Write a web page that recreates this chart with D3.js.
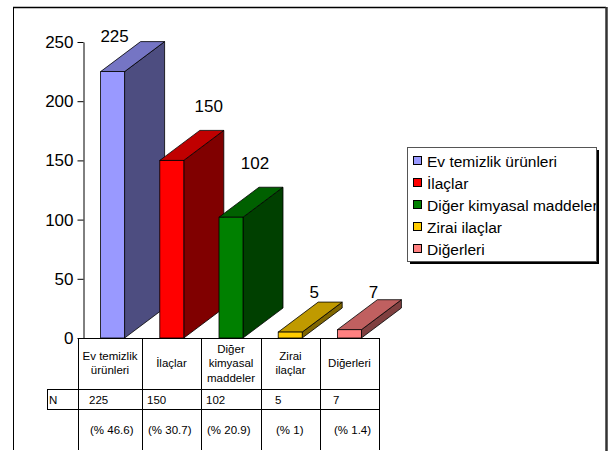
<!DOCTYPE html>
<html>
<head>
<meta charset="utf-8">
<script src="https://cdn.jsdelivr.net/npm/d3@7"></script>
<style>
  body { margin: 0; background: #fff; }
  text { font-family: Arial, "Liberation Sans", sans-serif; fill: #000; }
</style>
</head>
<body>
<div id="chart"></div>
<script>
// data
var categories = ["Ev temizlik ürünleri", "İlaçlar", "Diğer kimyasal maddeler", "Zirai ilaçlar", "Diğerleri"];
var headerLines = [["Ev temizlik", "ürünleri"], ["İlaçlar"], ["Diğer", "kimyasal", "maddeler"], ["Zirai", "ilaçlar"], ["Diğerleri"]];
var counts = [225, 150, 102, 5, 7];
var percents = ["(% 46.6)", "(% 30.7)", "(% 20.9)", "(% 1)", "(% 1.4)"];
var yTicks = [0, 50, 100, 150, 200, 250];

var fronts = ["#9999ff", "#ff0000", "#008000", "#ffcc00", "#ff8080"];
var tops   = ["#7575c4", "#c00000", "#006000", "#c09a00", "#c06060"];
var sides  = ["#4d4d80", "#800000", "#004000", "#806600", "#804040"];

// label nudges (Excel placed them by hand)
var labelDx = [2, 37, 24, 24, 24];
var labelDy = [-30, -48, -48, -34, -32];
var cellPad = [11, 5, 5, 14, 13];

var width = 609, height = 451;
var svg = d3.select("#chart").append("svg").attr("width", width).attr("height", height);

// frame
svg.append("line").attr("x1", 13.5).attr("y1", 7).attr("x2", 13.5).attr("y2", 450).attr("stroke", "#000");
svg.append("line").attr("x1", 13).attr("y1", 7.5).attr("x2", 606).attr("y2", 7.5).attr("stroke", "#000").attr("stroke-width", 1.5);
svg.append("line").attr("x1", 606.5).attr("y1", 7).attr("x2", 606.5).attr("y2", 451).attr("stroke", "#333").attr("stroke-width", 2.5);

var y = d3.scaleLinear().domain([0, 250]).range([338, 42]);
var x = d3.scaleBand().domain(categories).range([83, 379]);
var barW = 24, depthX = 40, depthY = -30;

// bars
var y0 = y(0);
categories.forEach(function(c, i) {
  var cx = x(c) + x.bandwidth() / 2;
  var x0 = cx - barW / 2, x1 = cx + barW / 2, yt = y(counts[i]);
  var g = svg.append("g");
  g.append("path")
    .attr("d", "M" + x1 + "," + y0 + "L" + (x1 + depthX) + "," + (y0 + depthY) + "L" + (x1 + depthX) + "," + (yt + depthY) + "L" + x1 + "," + yt + "Z")
    .attr("fill", sides[i]).attr("stroke", "#000").attr("stroke-width", 0.8);
  g.append("path")
    .attr("d", "M" + x0 + "," + yt + "L" + (x0 + depthX) + "," + (yt + depthY) + "L" + (x1 + depthX) + "," + (yt + depthY) + "L" + x1 + "," + yt + "Z")
    .attr("fill", tops[i]).attr("stroke", "#000").attr("stroke-width", 0.8);
  g.append("rect")
    .attr("x", x0).attr("y", yt).attr("width", barW).attr("height", y0 - yt)
    .attr("fill", fronts[i]).attr("stroke", "#000").attr("stroke-width", 0.8);
  svg.append("text")
    .attr("x", cx + labelDx[i]).attr("y", yt + labelDy[i])
    .attr("text-anchor", "middle").style("font-size", "17px")
    .text(counts[i]);
});

// axis
var axis = svg.append("g").attr("transform", "translate(83.5,0)")
  .call(d3.axisLeft(y).tickValues(yTicks).tickSize(6).tickSizeOuter(0).tickPadding(4));
axis.selectAll("text").style("font-size", "17px").style("font-family", "Arial, 'Liberation Sans', sans-serif").attr("fill", "#000");
axis.selectAll("path, line").attr("stroke", "#000");

// data table
var tableLeft = 78, tableRight = 379, rowN = 389, rowP = 409, nLeft = 47;
var bounds = categories.map(function(c, i) { return i === 0 ? tableLeft : x(c); });
bounds.push(tableRight);
var tbl = svg.append("g").attr("stroke", "#000").attr("stroke-width", 1);
tbl.append("line").attr("x1", tableLeft).attr("x2", tableRight).attr("y1", y0 + 0.5).attr("y2", y0 + 0.5);
tbl.append("line").attr("x1", nLeft).attr("x2", tableRight).attr("y1", rowN + 0.5).attr("y2", rowN + 0.5);
tbl.append("line").attr("x1", nLeft).attr("x2", tableRight).attr("y1", rowP + 0.5).attr("y2", rowP + 0.5);
tbl.append("line").attr("x1", nLeft + 0.5).attr("x2", nLeft + 0.5).attr("y1", rowN).attr("y2", rowP + 1);
bounds.forEach(function(b) {
  tbl.append("line").attr("x1", Math.round(b) + 0.5).attr("x2", Math.round(b) + 0.5).attr("y1", y0).attr("y2", 450);
});

svg.append("text").attr("x", 49).attr("y", 404).style("font-size", "11.5px").text("N");
categories.forEach(function(c, i) {
  var l = Math.round(bounds[i]), r = Math.round(bounds[i + 1]);
  var lines = headerLines[i];
  lines.forEach(function(t, k) {
    svg.append("text")
      .attr("x", (l + r) / 2).attr("y", 367 + (k - (lines.length - 1) / 2) * 14.5)
      .attr("text-anchor", "middle").style("font-size", "11.5px").text(t);
  });
  svg.append("text").attr("x", l + cellPad[i]).attr("y", 404).style("font-size", "11.5px").text(counts[i]);
  svg.append("text").attr("x", l + cellPad[i] + 1).attr("y", 434).style("font-size", "11.5px").text(percents[i]);
});

// legend
var lg = svg.append("g").attr("transform", "translate(407,147)");
var lw = 189, lh = 114;
svg.append("defs").append("clipPath").attr("id", "legclip")
  .append("rect").attr("x", 0).attr("y", 0).attr("width", lw).attr("height", lh);
lg.append("rect").attr("x", 3).attr("y", 3).attr("width", lw).attr("height", lh).attr("fill", "#000");
lg.append("rect").attr("x", 0.5).attr("y", 0.5).attr("width", lw).attr("height", lh).attr("fill", "#fff").attr("stroke", "#555");
var items = lg.append("g").attr("clip-path", "url(#legclip)");
categories.forEach(function(c, i) {
  var row = items.append("g").attr("transform", "translate(0," + (20 + i * 22) + ")");
  row.append("rect").attr("x", 6.5).attr("y", -10.5).attr("width", 8).attr("height", 8)
    .attr("fill", fronts[i]).attr("stroke", "#000").attr("stroke-width", 1);
  row.append("text").attr("x", 20).attr("y", 0).style("font-size", "15.5px").text(c);
});
</script>
</body>
</html>
